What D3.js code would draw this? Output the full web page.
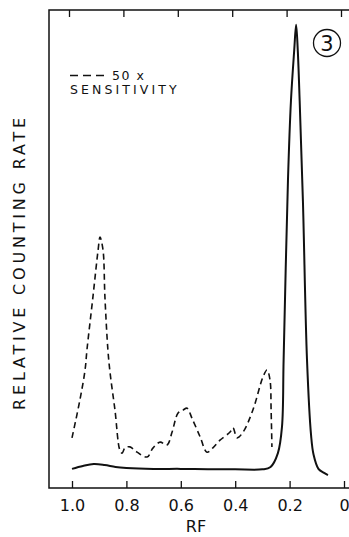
<!DOCTYPE html>
<html>
<head>
<meta charset="utf-8">
<script src="https://cdn.jsdelivr.net/npm/d3@7"></script>
<style>
  body { margin: 0; background: #fff; }
  svg { display: block; }
</style>
</head>
<body>
<svg id="chart" width="349" height="537"></svg>
<script>
// axis ticks (RF runs from 1.0 on the left to 0 on the right)
const rfTicks = [1.0, 0.8, 0.6, 0.4, 0.2, 0];

// solid trace, normal sensitivity
const solidRf = [1.0, 0.96, 0.92, 0.88, 0.84, 0.80, 0.70, 0.60, 0.50, 0.40, 0.30, 0.27, 0.243, 0.228, 0.222, 0.206, 0.195, 0.183, 0.176, 0.170, 0.163, 0.151, 0.136, 0.121, 0.112, 0.094, 0.075, 0.059];
const solidVal = [4.0, 4.6, 5.0, 4.8, 4.4, 4.2, 4.0, 4.0, 3.9, 3.9, 3.9, 4.4, 7.3, 12.8, 26.8, 64.4, 81, 91.6, 96.9, 91.6, 81, 60, 26.8, 11, 7.0, 4.0, 3.2, 2.7];

// dashed trace, 50x sensitivity
const dashRf = [1.0, 0.971, 0.952, 0.945, 0.923, 0.904, 0.897, 0.886, 0.879, 0.868, 0.860, 0.842, 0.824, 0.816, 0.805, 0.787, 0.761, 0.724, 0.702, 0.676, 0.651, 0.632, 0.610, 0.592, 0.577, 0.559, 0.529, 0.504, 0.482, 0.456, 0.419, 0.408, 0.393, 0.371, 0.335, 0.298, 0.283, 0.272, 0.268, 0.265];
const dashVal = [10.5, 18.4, 24.7, 28.9, 40.0, 49.8, 52.5, 49.8, 40.0, 28.9, 24.1, 16.3, 7.9, 7.3, 8.4, 8.6, 7.5, 6.5, 8.4, 9.6, 9.0, 11.7, 15.7, 16.3, 16.7, 14.6, 10.7, 7.5, 8.4, 10.0, 11.7, 12.6, 10.5, 11.7, 16.3, 23.2, 24.7, 22.6, 16.3, 8.6];

const svg = d3.select('#chart');
const font = 'DejaVu Sans, sans-serif';

const frameL = 49, frameT = 10, frameB = 488, frameR = 349;

const x = d3.scaleLinear().domain([1.0, 0]).range([72, 344]);
const y = d3.scaleLinear().domain([0, 100]).range([frameB, frameT]);

// frame: left, top and bottom lines (no right side)
svg.append('path')
  .attr('d', `M${frameR},${frameT}H${frameL}V${frameB}H${frameR}`)
  .attr('fill', 'none')
  .attr('stroke', '#111')
  .attr('stroke-width', 1.5);

// bottom axis, ticks pointing inward
const xAxis = d3.axisBottom(x)
  .tickValues(rfTicks)
  .tickSizeInner(-7)
  .tickSizeOuter(0)
  .tickPadding(12)
  .tickFormat(d => d === 0 ? '0' : d3.format('.1f')(d));

const gx = svg.append('g')
  .attr('transform', `translate(0,${frameB})`)
  .call(xAxis);
gx.select('.domain').remove();
gx.selectAll('line').attr('stroke', '#111').attr('stroke-width', 1.3);
gx.selectAll('text')
  .attr('font-family', font)
  .attr('font-size', 16)
  .attr('fill', '#111');

// top axis, ticks pointing inward, no labels
const gTop = svg.append('g')
  .attr('transform', `translate(-3,${frameT})`)
  .call(d3.axisTop(x).tickValues(rfTicks).tickSizeInner(-7).tickSizeOuter(0).tickFormat(''));
gTop.select('.domain').remove();
gTop.selectAll('line').attr('stroke', '#111').attr('stroke-width', 1.3);

// axis titles
svg.append('text')
  .attr('x', 196)
  .attr('y', 532)
  .attr('text-anchor', 'middle')
  .attr('font-family', font)
  .attr('font-size', 16)
  .attr('fill', '#111')
  .text('RF');

svg.append('text')
  .attr('transform', 'translate(25,262) rotate(-90)')
  .attr('text-anchor', 'middle')
  .attr('font-family', font)
  .attr('font-size', 16)
  .attr('letter-spacing', 3.8)
  .attr('fill', '#111')
  .text('RELATIVE COUNTING RATE');

// curves
const line = d3.line()
  .x(d => x(d[0]))
  .y(d => y(d[1]))
  .curve(d3.curveCatmullRom.alpha(0.5));

svg.append('path')
  .datum(d3.zip(solidRf, solidVal))
  .attr('d', line)
  .attr('fill', 'none')
  .attr('stroke', '#111')
  .attr('stroke-width', 2);

svg.append('path')
  .datum(d3.zip(dashRf, dashVal))
  .attr('d', line)
  .attr('fill', 'none')
  .attr('stroke', '#111')
  .attr('stroke-width', 1.6)
  .attr('stroke-dasharray', '6,4');

// legend
svg.append('line')
  .attr('x1', 70).attr('x2', 104)
  .attr('y1', 75.5).attr('y2', 75.5)
  .attr('stroke', '#111')
  .attr('stroke-width', 1.6)
  .attr('stroke-dasharray', '8,5');

svg.append('text')
  .attr('x', 112).attr('y', 80)
  .attr('font-family', font)
  .attr('font-size', 12.5)
  .attr('letter-spacing', 1.5)
  .attr('fill', '#111')
  .text('50 x');

svg.append('text')
  .attr('x', 70).attr('y', 94)
  .attr('font-family', font)
  .attr('font-size', 12.5)
  .attr('letter-spacing', 3.1)
  .attr('fill', '#111')
  .text('SENSITIVITY');

// panel number
svg.append('circle')
  .attr('cx', 327).attr('cy', 43).attr('r', 13.5)
  .attr('fill', 'none')
  .attr('stroke', '#111')
  .attr('stroke-width', 1.3);

svg.append('text')
  .attr('x', 327).attr('y', 51)
  .attr('text-anchor', 'middle')
  .attr('font-family', font)
  .attr('font-size', 21)
  .attr('fill', '#111')
  .text('3');
</script>
</body>
</html>
